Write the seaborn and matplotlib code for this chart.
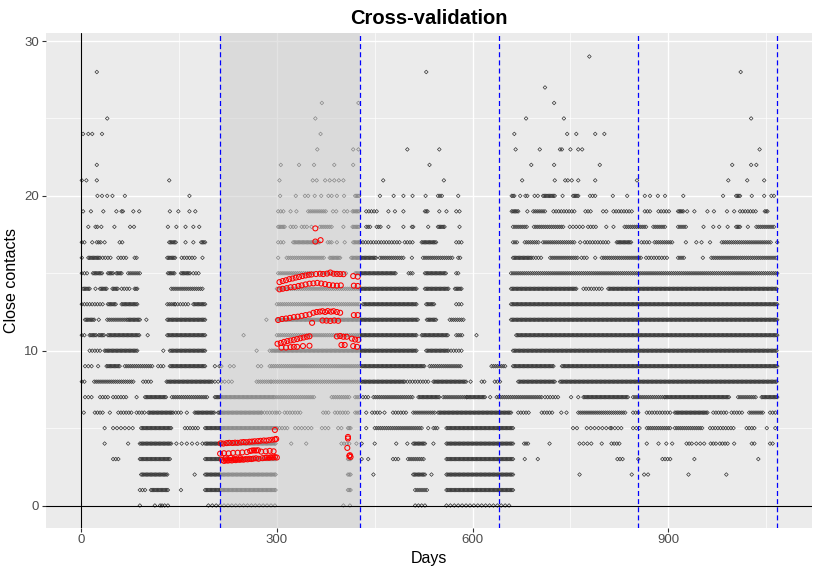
import matplotlib
matplotlib.use("Agg")
import matplotlib.pyplot as plt
import pandas as pd
import seaborn as sns

# observed close contacts per level: single days, or (first day, last day, spacing)
runs_00 = [90, 113, 121, 124, 128, 133, (195, 298, 6), 402, 412, (512, 530, 5), (560, 660, 6)]
runs_01 = [(90, 98, 4), (107, 133, 2), 153, (190, 298, 2), (409, 414, 2), (512, 530, 3), (560, 662, 2)]
runs_02 = [(92, 133, 2), 174, (190, 298, 2), (409, 414, 2), 448, (509, 527, 2), 537, (560, 662, 2),
           764, 844, 863, 869, 931, 989]
runs_03 = [(49, 57, 4), (90, 136, 2), (190, 298, 2), (409, 414, 2), 430, 440, (478, 486, 4), (501, 527, 3),
           (560, 662, 2), 680, 700, (822, 830, 4), 854, (891, 903, 4), 940, 1038]
runs_04 = [36, 72, (90, 139, 2), (146, 186, 8), (190, 298, 2), 322, 345, (399, 414, 4), 422, 430, 450, 483, 500,
           (509, 527, 2), 540, (560, 662, 2), (679, 685, 3), 718, (764, 782, 6), 798, (813, 826, 4), 867, 885,
           897, 906, (928, 936, 4), (943, 956, 6), (965, 974, 4), (979, 994, 4), 1001, (1028, 1035, 4),
           (1056, 1063, 4)]
runs_05 = [36, (49, 82, 6), (92, 139, 2), (159, 182, 4), (190, 298, 2), (300, 317, 4), (328, 353, 5),
           (369, 379, 5), 394, 399, (409, 414, 2), 437, (450, 524, 3), 532, (540, 547, 3), (560, 662, 2), 754, 760,
           (775, 812, 6), (813, 828, 5), (846, 856, 5), (867, 903, 3), (910, 954, 3), (964, 1002, 4),
           (1020, 1033, 4), 1051, 1064]
runs_06 = [4, (21, 36, 4), 44, (57, 77, 4), (85, 100, 4), (103, 139, 2), (141, 154, 4), 162, (174, 205, 2),
           (210, 277, 2), (277, 297, 4), (300, 305, 4), (312, 338, 4), (371, 379, 4), (389, 412, 4), (420, 427, 3),
           437, (446, 458, 4), 465, (478, 501, 4), (509, 542, 3), (547, 660, 2), (670, 688, 4), (706, 724, 4),
           736, 744, (762, 836, 3), (846, 855, 4), (867, 903, 4), (910, 961, 2), (969, 989, 4), (997, 1015, 4),
           (1024, 1046, 3), (1056, 1066, 4)]
runs_07 = [(6, 16, 5), (29, 44, 4), (49, 72, 4), 85, (98, 131, 2), (139, 195, 3), (205, 297, 2), (300, 358, 3),
           (384, 412, 3), (420, 427, 3), (432, 443, 4), (448, 509, 3), (517, 550, 2), (555, 591, 3),
           (591, 619, 2), 627, (637, 706, 3), (711, 731, 4), 751, 762, (770, 839, 2), (846, 895, 3),
           (895, 994, 2), (1007, 1035, 3), (1043, 1067, 2)]
runs_08 = [(1, 8, 4), (20, 82, 3), (95, 110, 4), (131, 202, 2), (205, 215, 5), 220, 226, 231, (269, 292, 3),
           (292, 427, 3), (430, 494, 2), (496, 535, 4), (540, 591, 2), 597, (614, 621, 4), (634, 642, 4),
           (670, 726, 2), (734, 1067, 2)]
runs_09 = [(6, 16, 5), 26, (39, 59, 2), (67, 110, 3), (118, 126, 4), (136, 190, 2), 205, 212, 215, 228, 234,
           271, 276, (289, 427, 3), (430, 527, 2), (534, 583, 3), (629, 650, 3), (662, 724, 2), (737, 1067, 2)]
runs_10 = [(13, 31, 4), (36, 87, 2), 126, (136, 190, 2), 269, 289, (292, 427, 2), (428, 514, 2), (529, 563, 2),
           (567, 583, 4), (662, 1067, 2)]
runs_11 = [(1, 8, 4), (13, 24, 2), (27, 36, 2), (41, 90, 2), 102, (132, 190, 2), 249, (300, 427, 3),
           (428, 514, 2), (522, 563, 2), (575, 586, 3), 606, (667, 1067, 2)]
runs_12 = [(6, 21, 2), 27, (40, 67, 3), (70, 90, 2), 100, (132, 190, 2), 284, (300, 427, 2), (428, 517, 2),
           (530, 545, 2), (565, 586, 3), (659, 1067, 2)]
runs_13 = [(1, 36, 4), (41, 54, 2), (62, 87, 2), (132, 144, 3), (144, 167, 4), (172, 190, 2), (300, 427, 3),
           (432, 514, 2), (529, 542, 2), (575, 583, 4), (659, 1067, 2)]
runs_14 = [(3, 13, 2), 22, (29, 40, 2), (48, 57, 2), (62, 75, 4), (82, 87, 2), (138, 187, 3), (300, 427, 3),
           (428, 514, 2), (527, 563, 2), (573, 583, 2), (659, 760, 2), (770, 800, 4), (808, 1067, 2)]
runs_15 = [(1, 11, 4), (18, 32, 2), (41, 49, 2), (54, 62, 2), (72, 90, 3), (133, 144, 2), (153, 167, 2),
           (172, 182, 4), (302, 356, 3), (366, 407, 4), (420, 483, 2), (502, 509, 3), (527, 560, 2),
           (575, 580, 3), (659, 1067, 3)]
runs_16 = [1, (11, 27, 2), (29, 46, 4), (57, 70, 4), (82, 87, 3), (132, 144, 2), (154, 177, 4), 186, 302,
           (315, 374, 3), (381, 397, 2), (414, 453, 2), (458, 496, 3), 507, (524, 570, 3), (578, 583, 3),
           (662, 690, 2), (693, 706, 4), (719, 762, 3), (767, 776, 4), 788, (798, 859, 3), (866, 900, 4),
           (915, 924, 3), 953, (966, 1067, 3)]
runs_17 = [(1, 8, 4), 17, (24, 30, 3), 36, (59, 66, 4), (135, 146, 2), 160, 172, (184, 190, 2), (302, 312, 4),
           (325, 366, 2), (378, 384, 3), 392, 404, (417, 427, 2), (428, 491, 4), (496, 509, 4), (522, 545, 2),
           (575, 583, 4), (662, 668, 3), (680, 701, 3), (708, 757, 3), 765, (772, 810, 4), (821, 844, 2),
           (859, 871, 4), (879, 908, 3), 927, 943, 951, 964, (982, 1058, 3), 1067]
runs_18 = [11, 22, 25, 31, 51, 75, 81, 133, 146, 160, 172, 181, (302, 312, 2), (321, 330, 4), (338, 346, 4),
           353, (366, 386, 3), 402, (416, 427, 2), (437, 443, 3), (453, 460, 3), 471, 494, (507, 509, 2), 532,
           (547, 558, 2), 580, (662, 685, 3), (694, 739, 3), (749, 770, 5), (777, 790, 4), 805, 816,
           (833, 867, 3), (877, 895, 3), (915, 927, 3), 954, 969, 978, 991, (1004, 1011, 2), 1022,
           (1035, 1063, 3)]
runs_19 = [3, 15, 34, 54, 62, 64, 80, 89, 136, 149, 166, 175, (302, 312, 4), 321, 330, (348, 376, 3),
           (386, 391, 5), (403, 408, 5), (416, 427, 2), (437, 453, 4), 471, 481, 494, (527, 531, 2), 549, 560,
           (575, 580, 5), (660, 670, 2), 684, (693, 713, 3), (724, 759, 4), (773, 782, 4), 800, 805,
           (816, 844, 4), (864, 872, 4), (885, 901, 4), (915, 923, 2), 929, 940, 960, 970, 990, 1001,
           (1010, 1035, 4), (1048, 1053, 2)]
runs_20 = [25, 32, 40, 48, 67, 166, 305, 329, (343, 348, 5), 358, 368, (379, 384, 5), 392, 403, (420, 427, 2),
           458, 479, 494, 508, 528, (547, 554, 3), 578, (660, 665, 2), 673, (681, 684, 3), (695, 700, 5),
           (708, 726, 2), 738, (754, 762, 2), (780, 788, 4), 815, 837, 864, 872, 884, 895, 923, 984,
           (1004, 1011, 2), 1028, 1047, (1058, 1062, 4)]
runs_21 = [1, 8, 24, 135, 304, 355, 361, 374, 381, 388, 395, 402, 463, 556, 676, 726, 742, 746, 752, 762, 788,
           852, 992, 1021, 1047]
runs_22 = [24, 306, 334, 357, 388, 417, 534, 690, 725, 795, 998, 1027, 1035]
runs_23 = [362, 417, 425, 500, 549, 666, 703, 734, 737, 750, 762, 768, 1040]
runs_24 = [3, 11, 17, 32, 367, 664, 745, 759, 788, 802]
runs_25 = [40, 359, 682, 740, 1027]
runs_26 = [369, 425, 725]
runs_27 = [711]
runs_28 = [24, 529, 1011]
runs_29 = [779]

# model predictions for the held-out fold
pred_days = [214, 218, 223, 227, 232, 236, 240, 245, 249, 253, 258, 262, 266, 271, 275, 280, 284, 288, 293, 297,
             299, 297,
             213, 219, 226, 233, 240, 247, 254, 259, 262, 265, 268, 271, 276, 283, 289, 295,
             216, 219, 222, 225, 228, 231, 234, 237, 240, 243, 246, 249, 252, 255, 258, 261, 264, 268, 272, 278,
             282, 285, 288, 291, 294, 297, 300, 221, 229, 236, 244,
             408, 409, 409, 412, 413, 411,
             304, 309, 314, 319, 324, 329, 334, 339, 344, 349, 353, 360, 366, 371, 377, 382, 387, 392, 397, 402,
             417, 424,
             304, 309, 315, 321, 327, 333, 338, 344, 350, 356, 362, 368, 374, 380, 386, 392, 398, 418, 424,
             302, 308, 314, 320, 326, 332, 338, 344, 350, 356, 361, 366, 370, 374, 378, 383, 387, 392, 397, 418,
             424,
             354, 370, 376, 382, 388, 394,
             301, 306, 311, 316, 321, 326, 331, 336, 341, 346, 350,
             307, 314, 321, 326, 331, 340, 350,
             392, 397, 402, 407, 399, 404, 415, 420, 425, 417, 423,
             359, 359, 367]
pred_vals = [4.02, 4.00, 4.03, 4.05, 4.04, 4.06, 4.05, 4.08, 4.10, 4.09, 4.12, 4.13, 4.15, 4.16, 4.18, 4.20, 4.19,
             4.22, 4.25, 4.27, 4.30, 4.88,
             3.35, 3.38, 3.37, 3.40, 3.41, 3.43, 3.45, 3.52, 3.55, 3.56, 3.55, 3.57, 3.48, 3.50, 3.53, 3.50,
             2.95, 2.88, 2.92, 2.90, 2.93, 2.91, 2.95, 2.93, 2.97, 2.95, 2.98, 2.96, 3.00, 2.98, 3.02, 3.00, 3.03,
             3.05, 3.02, 3.06, 3.08, 3.10, 3.08, 3.12, 3.10, 3.13, 3.10, 3.05, 3.08, 3.02, 3.06,
             3.72, 4.43, 4.33, 3.25, 3.14, 3.20,
             14.43, 14.50, 14.55, 14.62, 14.66, 14.72, 14.76, 14.82, 14.86, 14.90, 14.92, 14.95, 14.97, 14.95,
             14.98, 15.05, 14.97, 14.96, 14.95, 14.94, 14.82, 14.78,
             13.96, 14.00, 14.04, 14.10, 14.12, 14.18, 14.22, 14.28, 14.33, 14.35, 14.38, 14.34, 14.30, 14.25,
             14.22, 14.20, 14.22, 14.20, 14.18,
             11.98, 12.05, 12.08, 12.12, 12.17, 12.20, 12.25, 12.30, 12.34, 12.45, 12.50, 12.52, 12.55, 12.50,
             12.56, 12.52, 12.55, 12.50, 12.45, 12.30, 12.30,
             11.80, 11.95, 11.94, 11.92, 11.95, 11.93,
             10.45, 10.50, 10.57, 10.62, 10.66, 10.70, 10.75, 10.80, 10.85, 10.90, 10.93,
             10.20, 10.20, 10.23, 10.25, 10.25, 10.30, 10.32,
             10.92, 10.95, 10.90, 10.90, 10.37, 10.37, 10.78, 10.72, 10.70, 10.30, 10.25,
             17.90, 17.05, 17.14]

# fold boundaries (days) and the fold that is held out
fold_edges = [213, 427, 640, 854, 1067]
test_fold = (213, 427)

levels = [runs_00, runs_01, runs_02, runs_03, runs_04, runs_05, runs_06, runs_07, runs_08, runs_09,
          runs_10, runs_11, runs_12, runs_13, runs_14, runs_15, runs_16, runs_17, runs_18, runs_19,
          runs_20, runs_21, runs_22, runs_23, runs_24, runs_25, runs_26, runs_27, runs_28, runs_29]

rows = []
for lvl, runs in enumerate(levels):
    for item in runs:
        if isinstance(item, int):
            rows.append((item, lvl))
        else:
            start, end, step = item
            for d in range(start, end + 1, step):
                rows.append((d, lvl))
obs = pd.DataFrame(rows, columns=["day", "contacts"])
pred = pd.DataFrame({"day": pred_days, "contacts": pred_vals})

sns.set_theme(style="darkgrid", rc={
    "axes.facecolor": "#EBEBEB",
    "grid.color": "white",
    "axes.edgecolor": "#EBEBEB",
    "xtick.color": "#333333",
    "ytick.color": "#333333",
    "xtick.labelcolor": "#4D4D4D",
    "ytick.labelcolor": "#4D4D4D",
    "xtick.bottom": True,
    "ytick.left": True,
    "text.color": "black",
    "axes.labelcolor": "black",
})
plt.rcParams["font.family"] = ["Liberation Sans", "DejaVu Sans"]

fig, ax = plt.subplots(figsize=(8.2, 5.74), dpi=100)
fig.subplots_adjust(left=0.056, right=0.99, top=0.942, bottom=0.081)

sns.scatterplot(data=obs, x="day", y="contacts", ax=ax, marker="D", s=3.5, fc="none", ec="#333333",
                linewidth=0.5, zorder=2, legend=False)
ax.axvspan(test_fold[0], test_fold[1], color="#cdcdcd", alpha=0.55, lw=0, zorder=3)
sns.scatterplot(data=pred, x="day", y="contacts", ax=ax, marker="o", s=13, fc="none", ec="red",
                linewidth=0.75, zorder=4, legend=False)

ax.axhline(0, color="black", lw=0.8, zorder=5)
ax.axvline(0, color="black", lw=0.8, zorder=5)
for x in fold_edges:
    ax.axvline(x, color="blue", lw=0.9, ls=(0, (4, 2.5)), zorder=6)

ax.set_xlim(-54, 1120)
ax.set_ylim(-1.42, 30.5)
ax.set_xticks([0, 300, 600, 900])
ax.set_yticks([0, 10, 20, 30])
ax.set_xticks([150, 450, 750, 1050], minor=True)
ax.set_yticks([5, 15, 25], minor=True)
ax.grid(which="major", color="white", lw=1.0)
ax.grid(which="minor", color="white", lw=0.5)
ax.tick_params(which="major", length=3, width=0.8, labelsize=9.5, pad=2)
ax.tick_params(which="minor", length=0)
for s in ax.spines.values():
    s.set_visible(False)

ax.set_xlabel("Days", fontsize=11.5, labelpad=3, color="black")
ax.set_ylabel("Close contacts", fontsize=11.5, labelpad=4, color="black")
ax.set_title("Cross-validation", fontsize=14.5, fontweight="bold", pad=7, color="black")

fig.savefig("out.png", dpi=100)
